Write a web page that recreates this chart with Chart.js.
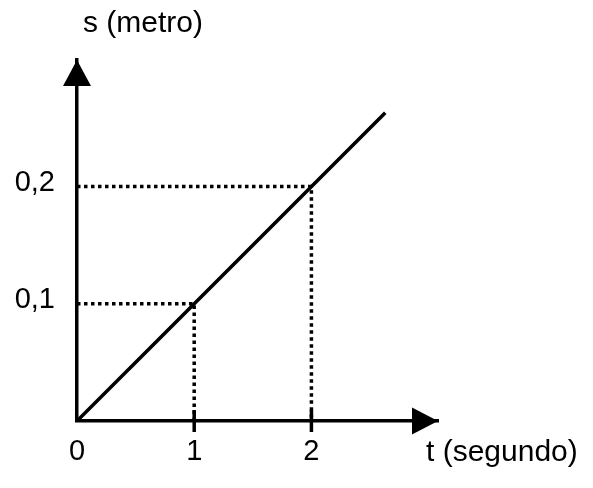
<!DOCTYPE html>
<html>
<head>
<meta charset="utf-8">
<script src="https://cdn.jsdelivr.net/npm/chart.js@4.4.1/dist/chart.umd.min.js"></script>
<style>
html,body{margin:0;padding:0;background:#fff;}
canvas{display:block;}
</style>
</head>
<body>
<canvas id="chart" width="593" height="488"></canvas>
<script>
// s = 0.1 t  (metro / segundo)
var lineT = [0, 2.63];
var lineS = [0, 0.263];
var markT = [1, 2];
var markS = [0.1, 0.2];
var xTicks = [0, 1, 2];
var yTicks = [0.1, 0.2];
var xMax = 3.08;
var yMax = 0.308;
var xTitle = 't (segundo)';
var yTitle = 's (metro)';

var family = '"Liberation Sans", Arial, sans-serif';

function points(xs, ys){
  return xs.map(function(x, i){return {x: x, y: ys[i]}});
}

var datasets = [{
  data: points(lineT, lineS),
  borderColor: '#000',
  borderWidth: 3.5,
  pointRadius: 0,
  showLine: true
}];
for(var i = 0; i < markT.length; i++){
  // dotted guides: from the s-axis to the point, then down to the t-axis
  datasets.push({
    data: points([0, markT[i], markT[i]], [markS[i], markS[i], 0]),
    borderColor: '#000',
    borderWidth: 3.5,
    borderDash: [3.5, 3.5],
    borderCapStyle: 'butt',
    pointRadius: 0,
    showLine: true
  });
}

var arrows = {
  id: 'arrows',
  afterDraw: function(chart){
    var ctx = chart.ctx, a = chart.chartArea;
    var sx = chart.scales.x;
    ctx.save();
    ctx.fillStyle = '#000';
    ctx.strokeStyle = '#000';
    // arrow heads
    ctx.beginPath();
    ctx.moveTo(a.left, a.top);
    ctx.lineTo(a.left - 14, a.top + 26);
    ctx.lineTo(a.left + 14, a.top + 26);
    ctx.closePath();
    ctx.fill();
    ctx.beginPath();
    ctx.moveTo(a.right, a.bottom);
    ctx.lineTo(a.right - 26, a.bottom - 13.5);
    ctx.lineTo(a.right - 26, a.bottom + 13.5);
    ctx.closePath();
    ctx.fill();
    // tick marks across the t-axis
    ctx.lineWidth = 3.5;
    markT.forEach(function(t){
      var px = sx.getPixelForValue(t);
      ctx.beginPath();
      ctx.moveTo(px, a.bottom - 11);
      ctx.lineTo(px, a.bottom + 11);
      ctx.stroke();
    });
    // axis names
    ctx.font = '30px ' + family;
    ctx.textAlign = 'left';
    ctx.textBaseline = 'alphabetic';
    ctx.fillText(yTitle, a.left + 6, a.top - 28);
    ctx.fillText(xTitle, a.right - 12, a.bottom + 40);
    ctx.restore();
  }
};

new Chart(document.getElementById('chart'), {
  type: 'scatter',
  data: {datasets: datasets},
  plugins: [arrows],
  options: {
    responsive: false,
    animation: false,
    layout: {padding: {top: 60, right: 155, left: 0, bottom: 0}},
    plugins: {legend: {display: false}, tooltip: {enabled: false}},
    scales: {
      x: {
        type: 'linear',
        min: 0,
        max: xMax,
        afterBuildTicks: function(s){ s.ticks = xTicks.map(function(v){return {value: v}}) },
        afterFit: function(s){ s.height = 67 },
        grid: {drawOnChartArea: false, drawTicks: false},
        border: {display: true, color: '#000', width: 3.5},
        ticks: {
          color: '#000',
          padding: 14,
          font: {family: family, size: 29},
          callback: function(v){ return String(v) }
        }
      },
      y: {
        type: 'linear',
        min: 0,
        max: yMax,
        afterBuildTicks: function(s){ s.ticks = yTicks.map(function(v){return {value: v}}) },
        afterFit: function(s){ s.width = 77 },
        grid: {drawOnChartArea: false, drawTicks: false},
        border: {display: true, color: '#000', width: 3.5},
        ticks: {
          color: '#000',
          padding: 22,
          labelOffset: -4,
          font: {family: family, size: 29},
          callback: function(v){ return v.toFixed(1).replace('.', ',') }
        }
      }
    }
  }
});
</script>
</body>
</html>
